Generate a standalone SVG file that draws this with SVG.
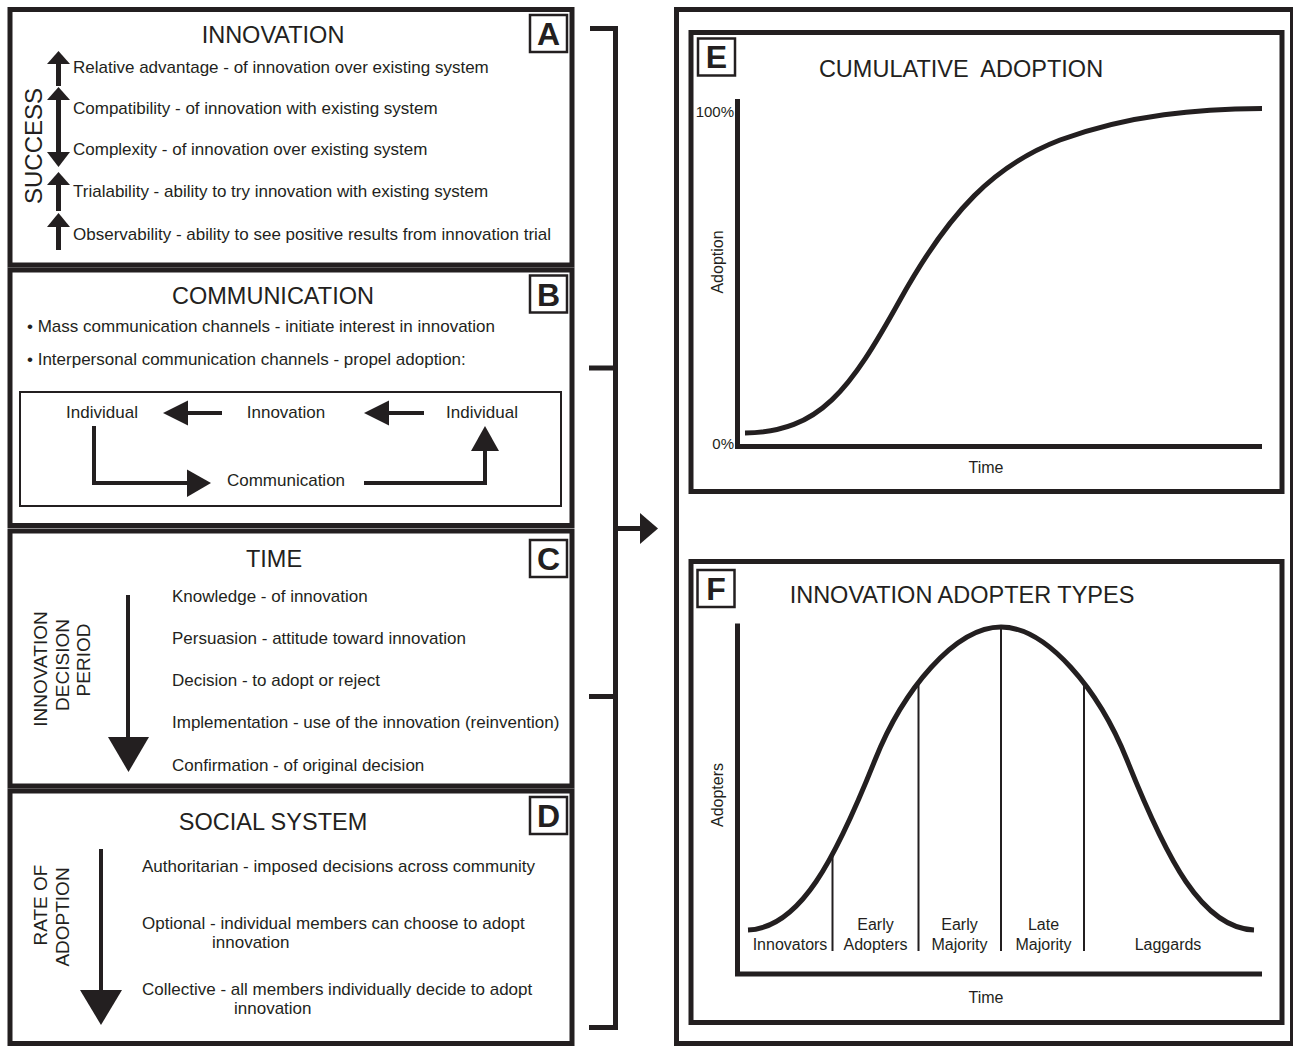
<svg xmlns="http://www.w3.org/2000/svg" width="1293" height="1046" viewBox="0 0 1293 1046">
<style>
text{font-family:"Liberation Sans",Arial,sans-serif;fill:#231f20}
.box{fill:none;stroke:#231f20;stroke-width:5}
.lbl{fill:#fff;stroke:#231f20;stroke-width:2.5}
.lt{font-size:32px;font-weight:bold;text-anchor:middle}
.title{font-size:23.5px;text-anchor:middle}
.item{font-size:17px}
.small{font-size:16px}
.mid{text-anchor:middle}
.ln{fill:none;stroke:#231f20;stroke-width:5}
.ln4{fill:none;stroke:#231f20;stroke-width:4}
.thin{fill:none;stroke:#231f20;stroke-width:2}
.head{fill:#231f20;stroke:none}
.vt{font-size:19px;text-anchor:middle}
</style>
<rect width="1293" height="1046" fill="#fff"/>

<g id="innovation">
<rect class="box" x="10" y="9.5" width="562" height="255.5"/>
<rect class="lbl" x="530" y="15" width="37" height="37"/>
<text class="lt" x="548.5" y="45">A</text>
<text class="title" x="273" y="43">INNOVATION</text>
<text class="item" x="73" y="73">Relative advantage - of innovation over existing system</text>
<text class="item" x="73" y="114">Compatibility - of innovation with existing system</text>
<text class="item" x="73" y="155">Complexity - of innovation over existing system</text>
<text class="item" x="73" y="197">Trialability - ability to try innovation with existing system</text>
<text class="item" x="73" y="240">Observability - ability to see positive results from innovation trial</text>
<line class="ln" x1="58.5" y1="62" x2="58.5" y2="86"/>
<polygon class="head" points="58.5,51 47,64 70,64"/>
<line class="ln" x1="58.5" y1="99" x2="58.5" y2="153"/>
<polygon class="head" points="58.5,87 47,100 70,100"/>
<polygon class="head" points="58.5,167 47,152 70,152"/>
<line class="ln" x1="58.5" y1="184" x2="58.5" y2="211"/>
<polygon class="head" points="58.5,172 47,185 70,185"/>
<line class="ln" x1="58.5" y1="225" x2="58.5" y2="250"/>
<polygon class="head" points="58.5,213 47,227 70,227"/>
<text class="title" transform="translate(42,146) rotate(-90)" style="font-size:24px">SUCCESS</text>
</g>

<g id="communication">
<rect class="box" x="10" y="270" width="562" height="255.5"/>
<rect class="lbl" x="530" y="275.5" width="37" height="37"/>
<text class="lt" x="548.5" y="305.5">B</text>
<text class="title" x="273" y="303.5">COMMUNICATION</text>
<text class="item" x="27" y="331.5">• Mass communication channels - initiate interest in innovation</text>
<text class="item" x="27" y="365">• Interpersonal communication channels - propel adoption:</text>
<rect class="thin" x="20" y="392" width="541" height="114"/>
<text class="item mid" x="102" y="418">Individual</text>
<text class="item mid" x="286" y="418">Innovation</text>
<text class="item mid" x="482" y="418">Individual</text>
<text class="item mid" x="286" y="486">Communication</text>
<line class="ln4" x1="186" y1="413" x2="222" y2="413"/>
<polygon class="head" points="163,413 188,400.5 188,425.5"/>
<line class="ln4" x1="387" y1="413" x2="424" y2="413"/>
<polygon class="head" points="364,413 389,400.5 389,425.5"/>
<polyline class="ln4" points="94,426 94,483 188,483"/>
<polygon class="head" points="187,469.5 187,497 211,483"/>
<polyline class="ln4" points="364,483 485,483 485,449"/>
<polygon class="head" points="471,451 499,451 485,426"/>
</g>

<g id="time">
<rect class="box" x="10" y="531" width="562" height="255"/>
<rect class="lbl" x="530" y="540" width="37" height="37"/>
<text class="lt" x="548.5" y="570">C</text>
<text class="title" x="274" y="567">TIME</text>
<text class="item" x="172" y="602">Knowledge - of innovation</text>
<text class="item" x="172" y="644">Persuasion - attitude toward innovation</text>
<text class="item" x="172" y="686">Decision - to adopt or reject</text>
<text class="item" x="172" y="728">Implementation - use of the innovation (reinvention)</text>
<text class="item" x="172" y="771">Confirmation - of original decision</text>
<line class="ln4" x1="128" y1="595" x2="128" y2="740"/>
<polygon class="head" points="108,737 149,737 128.5,772"/>
<text class="vt" transform="translate(47,669) rotate(-90)">INNOVATION</text>
<text class="vt" transform="translate(68.5,665) rotate(-90)">DECISION</text>
<text class="vt" transform="translate(90,660) rotate(-90)">PERIOD</text>
</g>

<g id="social-system">
<rect class="box" x="10" y="791" width="562" height="252.5"/>
<rect class="lbl" x="530" y="797" width="37" height="37"/>
<text class="lt" x="548.5" y="827">D</text>
<text class="title" x="273" y="830">SOCIAL SYSTEM</text>
<text class="item" x="142" y="872">Authoritarian - imposed decisions across community</text>
<text class="item" x="142" y="929">Optional - individual members can choose to adopt</text>
<text class="item" x="212" y="948">innovation</text>
<text class="item" x="142" y="995">Collective - all members individually decide to adopt</text>
<text class="item" x="234" y="1014">innovation</text>
<line class="ln4" x1="101" y1="849" x2="101" y2="992"/>
<polygon class="head" points="80,990 122,990 101,1025"/>
<text class="vt" transform="translate(47,905) rotate(-90)">RATE OF</text>
<text class="vt" transform="translate(69,917) rotate(-90)">ADOPTION</text>
</g>

<g id="outcomes">
<rect class="box" x="676.5" y="9.5" width="616" height="1034"/>
</g>

<g id="cumulative-adoption">
<rect class="box" x="691" y="32.5" width="591" height="459"/>
<rect class="lbl" x="698" y="38.5" width="37" height="37"/>
<text class="lt" x="716.5" y="68">E</text>
<text class="title" x="961" y="77" style="white-space:pre">CUMULATIVE  ADOPTION</text>
<polyline class="ln" points="737.5,99 737.5,446.5 1262,446.5"/>
<text x="734" y="117" style="font-size:15px;text-anchor:end">100%</text>
<text x="734" y="449" style="font-size:15px;text-anchor:end">0%</text>
<text class="small mid" x="986" y="473">Time</text>
<text class="small mid" transform="translate(723,262) rotate(-90)">Adoption</text>
<path class="ln" d="M745,433 C820,432 850,390 900,300 C950,210 995,165 1060,140 C1130,114 1200,109 1262,108.5"/>
</g>

<g id="adopter-types">
<rect class="box" x="691" y="561.5" width="591" height="461"/>
<rect class="lbl" x="697.5" y="570" width="37" height="37"/>
<text class="lt" x="716" y="599.5">F</text>
<text class="title" x="962" y="603">INNOVATION ADOPTER TYPES</text>
<polyline class="ln" points="737.5,623.5 737.5,974 1262,974"/>
<text class="small mid" x="986" y="1003">Time</text>
<text class="small mid" transform="translate(723,795) rotate(-90)">Adopters</text>
<path class="ln" d="M748,930 C800,928 835,860 875,760 C903,690 955,627 1001,627 C1047,627 1099,690 1127,760 C1167,860 1202,928 1254,930"/>
<line class="thin" x1="832.5" y1="855" x2="832.5" y2="951"/>
<line class="thin" x1="918.5" y1="684" x2="918.5" y2="951"/>
<line class="thin" x1="1001" y1="627" x2="1001" y2="951"/>
<line class="thin" x1="1084" y1="684" x2="1084" y2="951"/>
<text class="small mid" x="790" y="950">Innovators</text>
<text class="small mid" x="875.5" y="930">Early</text>
<text class="small mid" x="875.5" y="950">Adopters</text>
<text class="small mid" x="959.5" y="930">Early</text>
<text class="small mid" x="959.5" y="950">Majority</text>
<text class="small mid" x="1043.5" y="930">Late</text>
<text class="small mid" x="1043.5" y="950">Majority</text>
<text class="small mid" x="1168" y="950">Laggards</text>
</g>

<g id="connectors">
<path class="ln" d="M590,28.5 H615.5 V1027.5 H589 M589,368 H615.5 M589,696.5 H615.5 M615.5,528.5 H642"/>
<polygon class="head" points="640,513 640,544 658,528.5"/>
</g>
</svg>
